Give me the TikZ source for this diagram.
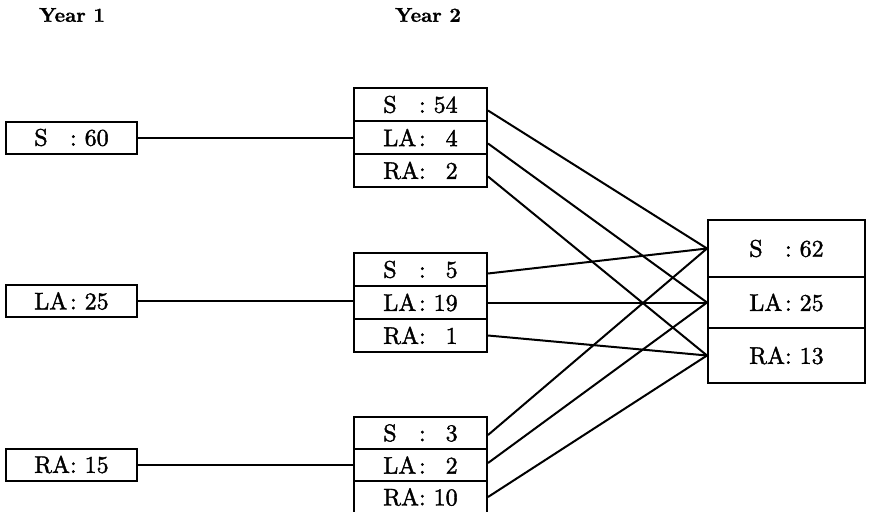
\documentclass[tikz,border=0pt]{standalone}
\usepackage{fontspec}
\newfontfamily\inkfont{lmroman10-regular.otf}[FakeBold=1.6]
\newfontfamily\inkbold{lmroman10-bold.otf}[FakeBold=1.0]
\newlength\labw
\newlength\numw
\newcommand\rowtext[2]{\makebox[\labw][l]{#1}:\ \makebox[\numw][r]{#2}}
\begin{document}
\inkfont\fontsize{24}{28}\selectfont
\settowidth{\labw}{RA}
\settowidth{\numw}{00}
\begin{tikzpicture}[x=1pt,y=-1pt,
  cellbox/.style={draw, line width=2pt, inner sep=0pt, font=\inkfont\fontsize{24}{28}\selectfont},
  leftbox/.style={cellbox, minimum width=131pt, minimum height=32pt},
  midbox/.style={cellbox, minimum width=133pt, minimum height=33pt},
  yearlbl/.style={font=\inkbold\fontsize{20}{24}\selectfont, inner sep=0pt},
  link/.style={line width=2pt}]
\useasboundingbox (0,0) rectangle (869,511);
\clip (0,0) rectangle (869,511);

% column headings
\node[yearlbl] (y1) at (72,15) {Year 1};
\node[yearlbl] (y2) at (428,15) {Year 2};

% year 1 states
\node[leftbox] (l1) at (71.5,137.5) {\rowtext{S}{60}};
\node[leftbox] (l2) at (71.5,301) {\rowtext{LA}{25}};
\node[leftbox] (l3) at (71.5,464.5) {\rowtext{RA}{15}};

% year 2 breakdown
\node[midbox] (m11) at (420.5,104.5) {\rowtext{S}{54}};
\node[midbox] (m12) at (420.5,137.5) {\rowtext{LA}{4}};
\node[midbox] (m13) at (420.5,170.5) {\rowtext{RA}{2}};

\node[midbox] (m21) at (420.5,269.5) {\rowtext{S}{5}};
\node[midbox] (m22) at (420.5,302.5) {\rowtext{LA}{19}};
\node[midbox] (m23) at (420.5,335.5) {\rowtext{RA}{1}};

\node[midbox, minimum height=32pt] (m31) at (420.5,433) {\rowtext{S}{3}};
\node[midbox, minimum height=32pt] (m32) at (420.5,465) {\rowtext{LA}{2}};
\node[midbox, minimum height=32pt] (m33) at (420.5,497) {\rowtext{RA}{10}};

% totals
\node[cellbox, minimum width=157pt, minimum height=57pt] (r1) at (786.5,248.5) {\rowtext{S}{62}};
\node[cellbox, minimum width=157pt, minimum height=51pt] (r2) at (786.5,302.5) {\rowtext{LA}{25}};
\node[cellbox, minimum width=157pt, minimum height=55pt] (r3) at (786.5,355.5) {\rowtext{RA}{13}};

% year 1 -> year 2
\draw[link] (l1.east) -- (l1.east -| m12.west);
\draw[link] (l2.east) -- (l2.east -| m22.west);
\draw[link] (l3.east) -- (l3.east -| m32.west);

% year 2 -> totals
\draw[link] ([yshift=-6pt]m11.east) -- (r1.west);
\draw[link] ([yshift=-6pt]m12.east) -- (r2.west);
\draw[link] ([yshift=-6pt]m13.east) -- (r3.west);

\draw[link] ([yshift=-4pt]m21.east) -- (r1.west);
\draw[link] (m22.east) -- (r2.west);
\draw[link] (m23.east) -- (r3.west);

\draw[link] ([yshift=-2pt]m31.east) -- (r1.west);
\draw[link] ([yshift=2pt]m32.east) -- (r2.west);
\draw[link] (m33.east) -- (r3.west);
\end{tikzpicture}
\end{document}
